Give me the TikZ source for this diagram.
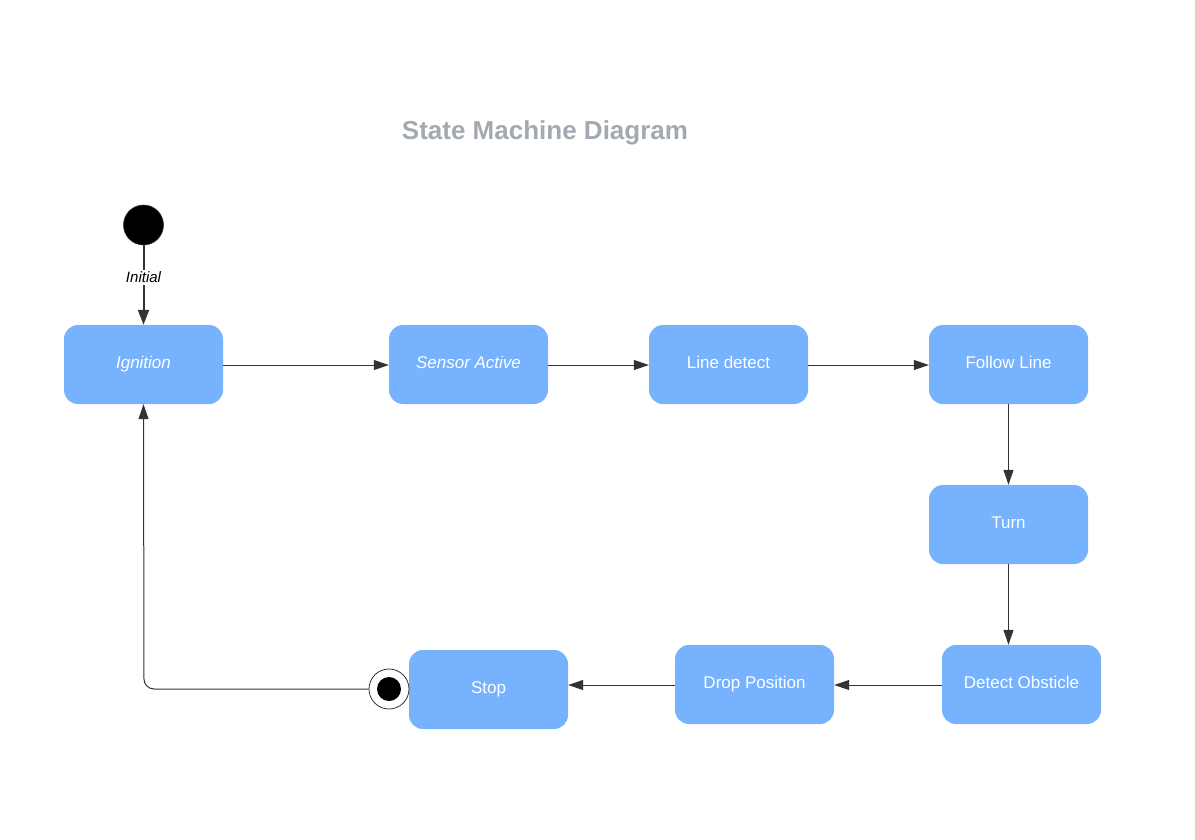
\documentclass[tikz,border=0pt]{standalone}
\usepackage{fontspec}
\setmainfont{Liberation Sans}
\usetikzlibrary{arrows.meta}
\definecolor{boxblue}{HTML}{76B2FE}
\definecolor{titlegray}{HTML}{A3A9B3}
\definecolor{linegray}{HTML}{333333}
\begin{document}
\begin{tikzpicture}[x=1pt,y=-1pt,
  state/.style={draw=none,fill=boxblue,rounded corners=14pt,minimum width=159pt,minimum height=79pt,inner sep=0pt,text=white,text height=12pt,text depth=4.8pt,font=\fontsize{17}{20}\selectfont},
  conn/.style={draw=linegray,line width=1pt,-{Triangle[length=15pt,width=10pt]}}
]
\useasboundingbox (0,0) rectangle (1195,839);
\node[font=\bfseries\fontsize{26}{30}\selectfont,text=titlegray] (title) at (545,133) {State Machine Diagram};
\node[circle,fill=black,draw=linegray,line width=0.6pt,minimum size=40pt,inner sep=0pt] (init) at (143.5,225) {};
\node[state,font=\itshape\fontsize{17}{20}\selectfont] (ign) at (143.5,364.5) {Ignition};
\node[state,font=\itshape\fontsize{17}{20}\selectfont] (sens) at (468.5,364.5) {Sensor Active};
\node[state] (line) at (728.5,364.5) {Line detect};
\node[state] (follow) at (1008.5,364.5) {Follow Line};
\node[state] (turn) at (1008.5,524.5) {Turn};
\node[state] (detect) at (1021.5,684.5) {Detect Obsticle};
\node[state] (drop) at (754.5,684.5) {Drop Position};
\node[state] (stop) at (488.5,689.5) {Stop};
\node[circle,draw=linegray,fill=white,line width=0.8pt,minimum size=40pt,inner sep=0pt] (final) at (389,689) {};
\node[circle,fill=black,minimum size=24pt,inner sep=0pt] (finalin) at (final.center) {};
\coordinate (corner) at (144,689);
% initial
\draw[conn,line width=2pt,-{Triangle[length=15pt,width=11pt]}] (init.south) -- node[pos=0.4,fill=white,text=black,inner sep=2pt,font=\itshape\fontsize{15}{18}\selectfont] (initlbl) {Initial} (ign.north);
% transitions
\draw[conn] (ign.east |- 0,365) -- (sens.west |- 0,365);
\draw[conn] (sens.east |- 0,365) -- (line.west |- 0,365);
\draw[conn] (line.east |- 0,365) -- (follow.west |- 0,365);
\draw[conn] (follow.south) -- (turn.north);
\draw[conn] (turn.south) -- (turn.south |- detect.north);
\draw[conn] (detect.west |- 0,685) -- (drop.east |- 0,685);
\draw[conn] (drop.west |- 0,685) -- (stop.east |- 0,685);
\draw[conn,rounded corners=10pt] (final.west) -- (corner) -- (ign.south);
\end{tikzpicture}
\end{document}
